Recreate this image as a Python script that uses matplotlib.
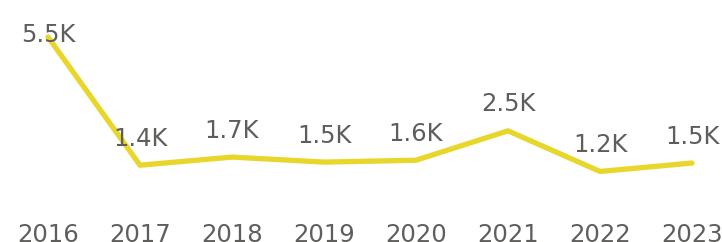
import matplotlib
matplotlib.use('Agg')
import matplotlib.pyplot as plt

# valores (em milhares) por ano
anos = [2016, 2017, 2018, 2019, 2020, 2021, 2022, 2023]
valores = [5.5, 1.4, 1.66, 1.5, 1.56, 2.5, 1.2, 1.47]

cor_linha = '#E8D62B'
cor_texto = '#605E5C'

plt.rcParams['font.family'] = ['DejaVu Sans']

fig = plt.figure(figsize=(7.22, 2.42), dpi=100)
ax = fig.add_axes([48 / 722, 1 - 209 / 242, 644 / 722, 172 / 242])

ax.plot(anos, valores, color=cor_linha, linewidth=3.8, solid_capstyle='round',
        solid_joinstyle='round', clip_on=False)

# rótulos de dados acima dos pontos
topo = max(valores)
for a, v in zip(anos, valores):
    dy = -3.5 if v == topo else 14
    ax.annotate(f"{v:.1f}K", (a, v), xytext=(0, dy), textcoords='offset points',
                ha='center', va='baseline', fontsize=17.5, color=cor_texto)

ax.set_xlim(anos[0], anos[-1])
ax.set_ylim(0, topo)
ax.set_xticks(anos)
ax.set_xticklabels([str(a) for a in anos], fontsize=17.5, color=cor_texto)
ax.tick_params(axis='x', length=0, pad=10)
ax.set_yticks([])
for s in ax.spines.values():
    s.set_visible(False)
ax.patch.set_alpha(0)

fig.savefig('out.png', dpi=100)
